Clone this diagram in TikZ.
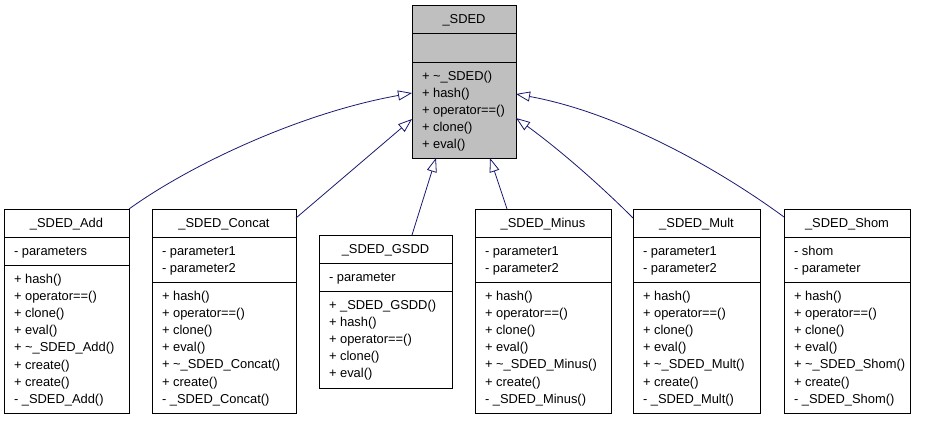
\documentclass[tikz,border=0pt]{standalone}
\usepackage{fontspec}
\setmainfont{Liberation Sans}
\usetikzlibrary{arrows.meta}
\definecolor{edgeblue}{HTML}{191970}
\definecolor{basegray}{HTML}{BFBFBF}
\tikzset{
  cls/.style={draw=black, line width=0.9pt, fill=white, inner sep=0pt, outer sep=0pt, rectangle, anchor=north west},
  sepline/.style={draw=black, line width=0.9pt},
  txt/.style={inner sep=0pt, outer sep=0pt, font=\fontsize{12.9}{14}\selectfont},
  inh/.style={draw=edgeblue, line width=0.8pt, -{Triangle[open, fill=white, length=14pt, width=10pt]}}
}
% #1 name, #2 x1, #3 y1, #4 x2, #5 y2, #6 sep1, #7 sep2, #8 fill
\newcommand\umlbox[8]{%
  \node[cls, fill=#8, minimum width={(#4)-(#2)}, minimum height={(#5)-(#3)}] (#1) at (#2,#3) {};
  \draw[sepline] (#2,#6) -- (#4,#6);
  \draw[sepline] (#2,#7) -- (#4,#7);
}
% #1 prefix, #2 x, #3 first baseline, #4 list
\newcommand\umlrows[4]{%
  \foreach \t [count=\i] in {#4} {
    \node[txt, anchor=base west] (#1\i) at (#2, {#3+(\i-1)*17.1}) {\t};
  }
}
\begin{document}
\begin{tikzpicture}[x=1pt,y=-1pt]
\useasboundingbox (0,0) rectangle (925,421);

% base class
\umlbox{sded}{412}{5}{516}{158}{33}{62}{basegray}
\node[txt, anchor=base] (sded-t) at (464,23.5) {\_SDED};
\umlrows{sded-m}{422}{80.5}{+ \textasciitilde\_SDED(), + hash(), + operator==(), + clone(), + eval()}

% _SDED_Add
\umlbox{add}{4}{209}{129}{413}{237}{265}{white}
\node[txt, anchor=base] (add-t) at (66.5,227.5) {\_SDED\_Add};
\umlrows{add-a}{14}{255.5}{- parameters}
\umlrows{add-m}{14}{283.5}{+ hash(), + operator==(), + clone(), + eval(), + \textasciitilde\_SDED\_Add(), + create(), + create(), - \_SDED\_Add()}

% _SDED_Concat
\umlbox{concat}{152}{209}{296}{413}{237}{282}{white}
\node[txt, anchor=base] (concat-t) at (224,227.5) {\_SDED\_Concat};
\umlrows{concat-a}{162}{255.5}{- parameter1, - parameter2}
\umlrows{concat-m}{162}{300.5}{+ hash(), + operator==(), + clone(), + eval(), + \textasciitilde\_SDED\_Concat(), + create(), - \_SDED\_Concat()}

% _SDED_GSDD
\umlbox{gsdd}{319}{235}{452}{388}{263}{291}{white}
\node[txt, anchor=base] (gsdd-t) at (385.5,253.5) {\_SDED\_GSDD};
\umlrows{gsdd-a}{329}{281.5}{- parameter}
\umlrows{gsdd-m}{329}{309.5}{+ \_SDED\_GSDD(), + hash(), + operator==(), + clone(), + eval()}

% _SDED_Minus
\umlbox{minus}{475}{209}{611}{413}{237}{282}{white}
\node[txt, anchor=base] (minus-t) at (543,227.5) {\_SDED\_Minus};
\umlrows{minus-a}{485}{255.5}{- parameter1, - parameter2}
\umlrows{minus-m}{485}{300.5}{+ hash(), + operator==(), + clone(), + eval(), + \textasciitilde\_SDED\_Minus(), + create(), - \_SDED\_Minus()}

% _SDED_Mult
\umlbox{mult}{633}{209}{760}{413}{237}{282}{white}
\node[txt, anchor=base] (mult-t) at (696.5,227.5) {\_SDED\_Mult};
\umlrows{mult-a}{643}{255.5}{- parameter1, - parameter2}
\umlrows{mult-m}{643}{300.5}{+ hash(), + operator==(), + clone(), + eval(), + \textasciitilde\_SDED\_Mult(), + create(), - \_SDED\_Mult()}

% _SDED_Shom
\umlbox{shom}{784}{209}{910}{413}{237}{282}{white}
\node[txt, anchor=base] (shom-t) at (847,227.5) {\_SDED\_Shom};
\umlrows{shom-a}{794}{255.5}{- shom, - parameter}
\umlrows{shom-m}{794}{300.5}{+ hash(), + operator==(), + clone(), + eval(), + \textasciitilde\_SDED\_Shom(), + create(), - \_SDED\_Shom()}

% inheritance edges
\draw[inh] (add.north east) .. controls (190,165) and (300,113) .. ([yshift=-88pt]sded.north west);
\draw[inh] ([yshift=-9pt]concat.north east) -- ([yshift=-114pt]sded.north west);
\draw[inh] ([xshift=93pt]gsdd.north west) -- ([xshift=24pt]sded.south west);
\draw[inh] ([xshift=32pt]minus.north west) -- ([xshift=78pt]sded.south west);
\draw[inh] ([yshift=-9pt]mult.north west) .. controls (600,185) and (560,150) .. ([yshift=-113pt]sded.north east);
\draw[inh] ([yshift=-8pt]shom.north west) .. controls (720,170) and (620,113) .. ([yshift=-89pt]sded.north east);
\end{tikzpicture}
\end{document}
